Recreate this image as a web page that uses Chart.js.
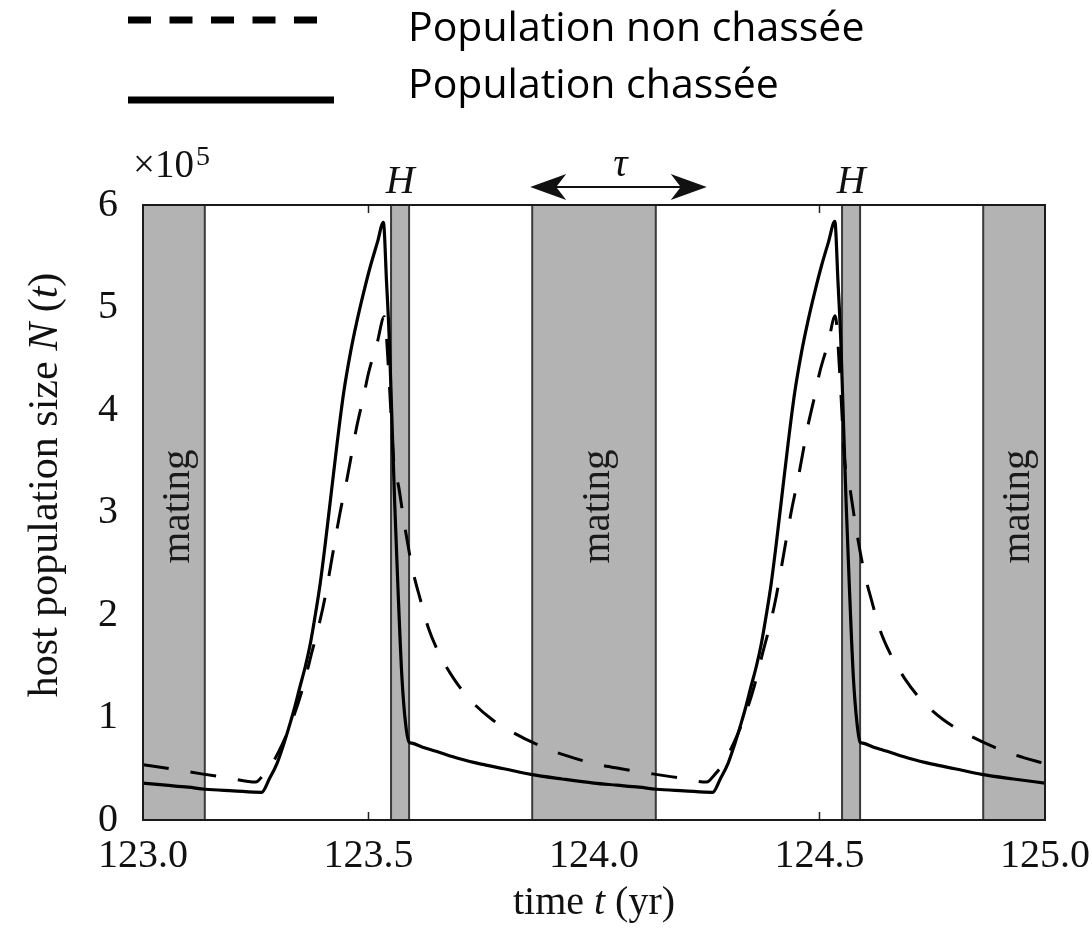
<!DOCTYPE html>
<html>
<head>
<meta charset="utf-8">
<script src="https://cdn.jsdelivr.net/npm/chart.js@4/dist/chart.umd.min.js"></script>
<style>
  html, body { margin: 0; padding: 0; background: #fff; }
  #wrap { width: 1092px; height: 928px; }
</style>
</head>
<body>
<div id="wrap"><canvas id="c" width="1092" height="928"></canvas></div>
<script>
// ---- data -------------------------------------------------------------
const seriesLabels = ['Population non chassée', 'Population chassée'];

// non-hunted population (dashed), time in years, size in units of 10^5
const wildT = [
  123.000, 123.060, 123.130, 123.190, 123.250, 123.267, 123.282, 123.300, 123.317, 123.334,
  123.355, 123.374, 123.390, 123.404, 123.422, 123.437, 123.452, 123.463, 123.474, 123.489,
  123.500, 123.519, 123.535, 123.545, 123.556, 123.567, 123.578, 123.590, 123.600, 123.615,
  123.633, 123.656, 123.689, 123.726, 123.774, 123.822, 123.885, 123.937,
  124.000, 124.060, 124.130, 124.190, 124.250, 124.267, 124.282, 124.300, 124.317, 124.334,
  124.355, 124.374, 124.390, 124.404, 124.422, 124.437, 124.452, 124.463, 124.474, 124.489,
  124.500, 124.519, 124.535, 124.545, 124.556, 124.567, 124.578, 124.590, 124.600, 124.615,
  124.633, 124.656, 124.689, 124.726, 124.774, 124.822, 124.885, 124.937, 125.000
];
const wildN = [
  0.54, 0.50, 0.45, 0.41, 0.37, 0.44, 0.52, 0.66, 0.82, 1.01,
  1.30, 1.63, 1.90, 2.18, 2.63, 3.00, 3.32, 3.58, 3.84, 4.13,
  4.36, 4.65, 4.91, 4.35, 3.50, 3.25, 2.93, 2.62, 2.40, 2.15,
  1.87, 1.63, 1.38, 1.17, 0.98, 0.85, 0.715, 0.63,
  0.55, 0.50, 0.45, 0.41, 0.37, 0.44, 0.52, 0.66, 0.82, 1.01,
  1.30, 1.63, 1.90, 2.18, 2.63, 3.00, 3.32, 3.58, 3.84, 4.13,
  4.36, 4.65, 4.92, 4.35, 3.50, 3.25, 2.93, 2.62, 2.40, 2.15,
  1.87, 1.63, 1.38, 1.17, 0.98, 0.85, 0.715, 0.63, 0.55
];

// hunted population (solid)
const huntedT = [
  123.000, 123.050, 123.100, 123.138, 123.200, 123.263, 123.280, 123.297, 123.312, 123.326,
  123.337, 123.348, 123.360, 123.371, 123.382, 123.393, 123.404, 123.415, 123.430, 123.445,
  123.460, 123.474, 123.490, 123.504, 123.520, 123.533, 123.540, 123.546, 123.552, 123.558,
  123.565, 123.574, 123.582, 123.590, 123.596, 123.620, 123.650, 123.700, 123.750, 123.800,
  123.860, 123.930,
  124.000, 124.050, 124.100, 124.138, 124.200, 124.263, 124.280, 124.297, 124.312, 124.326,
  124.337, 124.348, 124.360, 124.371, 124.382, 124.393, 124.404, 124.415, 124.430, 124.445,
  124.460, 124.474, 124.490, 124.504, 124.520, 124.534, 124.541, 124.547, 124.553, 124.559,
  124.566, 124.575, 124.583, 124.590, 124.596, 124.620, 124.650, 124.700, 124.750, 124.800,
  124.860, 124.930, 125.000
];
const huntedN = [
  0.36, 0.34, 0.32, 0.30, 0.285, 0.27, 0.40, 0.55, 0.74, 0.94,
  1.11, 1.30, 1.50, 1.72, 2.00, 2.31, 2.69, 3.10, 3.66, 4.17,
  4.56, 4.86, 5.16, 5.40, 5.64, 5.83, 5.25, 4.70, 3.90, 3.10,
  2.30, 1.40, 0.95, 0.76, 0.75, 0.71, 0.67, 0.60, 0.545, 0.50,
  0.445, 0.40,
  0.36, 0.34, 0.32, 0.30, 0.285, 0.27, 0.40, 0.55, 0.74, 0.94,
  1.11, 1.30, 1.50, 1.72, 2.00, 2.31, 2.69, 3.10, 3.66, 4.17,
  4.56, 4.86, 5.16, 5.40, 5.64, 5.84, 5.25, 4.70, 3.90, 3.10,
  2.30, 1.40, 0.95, 0.76, 0.75, 0.71, 0.67, 0.60, 0.545, 0.50,
  0.445, 0.40, 0.36
];

// seasons (start, end) in years
const matingSeasons = [[122.863, 123.137], [123.863, 124.137], [124.863, 125.137]];
const huntingSeasons = [[123.550, 123.590], [124.550, 124.590]];
const seasonLabel = 'mating';
const huntingLabel = 'H';
const periodLabel = 'τ';
const periodSpan = [123.863, 124.25];

// axes
const xTickValues = [123.0, 123.5, 124.0, 124.5, 125.0];
const xTickLabels = ['123.0', '123.5', '124.0', '124.5', '125.0'];
const yTickValues = [0, 1, 2, 3, 4, 5, 6];
const yTickLabels = ['0', '1', '2', '3', '4', '5', '6'];
const xTitleParts = [['time ', false], ['t', true], [' (yr)', false]];
const yTitleParts = [['host population size ', false], ['N', true], [' (', false], ['t', true], [')', false]];
const yScaleBase = '×10';
const yScaleExp = '5';

// ---- drawing helpers ---------------------------------------------------
const SERIF = '"Liberation Serif", "Times New Roman", serif';
const SANS = '"Open Sans", "Noto Sans", sans-serif';
const toPoints = (ts, ns) => ts.map((t, i) => ({ x: t, y: ns[i] }));

function mixedWidth(ctx, parts, size) {
  let w = 0;
  for (const [txt, it] of parts) {
    ctx.font = (it ? 'italic ' : '') + size + 'px ' + SERIF;
    w += ctx.measureText(txt).width;
  }
  return w;
}
function drawMixed(ctx, parts, size, cx, baseline) {
  const w = mixedWidth(ctx, parts, size);
  let x = cx - w / 2;
  ctx.textAlign = 'left';
  ctx.textBaseline = 'alphabetic';
  for (const [txt, it] of parts) {
    ctx.font = (it ? 'italic ' : '') + size + 'px ' + SERIF;
    ctx.fillText(txt, x, baseline);
    x += ctx.measureText(txt).width;
  }
}
function arrowHead(ctx, tipX, y, dir) {
  const L = 36, W = 13, notch = 10;
  ctx.beginPath();
  ctx.moveTo(tipX, y);
  ctx.lineTo(tipX + dir * L, y - W);
  ctx.lineTo(tipX + dir * (L - notch), y);
  ctx.lineTo(tipX + dir * L, y + W);
  ctx.closePath();
  ctx.fill();
}

const decorations = {
  id: 'decorations',
  beforeDraw(chart) {
    const ctx = chart.ctx;
    ctx.save();
    ctx.fillStyle = '#fff';
    ctx.fillRect(0, 0, chart.width, chart.height);
    ctx.restore();
  },
  beforeDatasetsDraw(chart) {
    const { ctx, chartArea: a, scales: { x, y } } = chart;
    ctx.save();
    // inward tick marks
    ctx.strokeStyle = '#222';
    ctx.lineWidth = 1.5;
    for (const v of xTickValues) {
      const px = x.getPixelForValue(v);
      ctx.beginPath();
      ctx.moveTo(px, a.bottom); ctx.lineTo(px, a.bottom - 8);
      ctx.moveTo(px, a.top); ctx.lineTo(px, a.top + 8);
      ctx.stroke();
    }
    for (const v of yTickValues) {
      const py = y.getPixelForValue(v);
      ctx.beginPath();
      ctx.moveTo(a.left, py); ctx.lineTo(a.left + 8, py);
      ctx.moveTo(a.right, py); ctx.lineTo(a.right - 8, py);
      ctx.stroke();
    }
    // seasons
    ctx.beginPath();
    ctx.rect(a.left, a.top, a.right - a.left, a.bottom - a.top);
    ctx.clip();
    const band = (s, e) => {
      const x0 = x.getPixelForValue(s), x1 = x.getPixelForValue(e);
      ctx.fillStyle = '#b3b3b3';
      ctx.fillRect(x0, a.top, x1 - x0, a.bottom - a.top);
      ctx.strokeStyle = '#3a3a3a';
      ctx.lineWidth = 2;
      ctx.beginPath();
      ctx.moveTo(x0, a.top); ctx.lineTo(x0, a.bottom);
      ctx.moveTo(x1, a.top); ctx.lineTo(x1, a.bottom);
      ctx.stroke();
      return [Math.max(x0, a.left), Math.min(x1, a.right)];
    };
    for (const [s, e] of matingSeasons) {
      const [l, r] = band(s, e);
      ctx.save();
      ctx.translate((l + r) / 2 + 4, (a.top + a.bottom) / 2 - 6);
      ctx.rotate(-Math.PI / 2);
      ctx.fillStyle = '#1a1a1a';
      ctx.font = '41px ' + SERIF;
      ctx.textAlign = 'center';
      ctx.textBaseline = 'middle';
      ctx.fillText(seasonLabel, 0, 0);
      ctx.restore();
    }
    for (const [s, e] of huntingSeasons) band(s, e);
    ctx.restore();
  },
  afterDatasetsDraw(chart) {
    const { ctx, chartArea: a, scales: { x, y } } = chart;
    ctx.save();
    // frame
    ctx.strokeStyle = '#1a1a1a';
    ctx.lineWidth = 2;
    ctx.strokeRect(a.left, a.top, a.right - a.left, a.bottom - a.top);

    ctx.fillStyle = '#111';
    // H labels above hunting seasons
    ctx.font = 'italic 40px ' + SERIF;
    ctx.textAlign = 'center';
    ctx.textBaseline = 'alphabetic';
    for (const [s, e] of huntingSeasons) {
      ctx.fillText(huntingLabel, (x.getPixelForValue(s) + x.getPixelForValue(e)) / 2, a.top - 12);
    }
    // period arrow
    const ax0 = x.getPixelForValue(periodSpan[0]) - 2;
    const ax1 = x.getPixelForValue(periodSpan[1]);
    const ay = a.top - 18;
    ctx.strokeStyle = '#111';
    ctx.lineWidth = 2;
    ctx.beginPath();
    ctx.moveTo(ax0 + 20, ay); ctx.lineTo(ax1 - 20, ay);
    ctx.stroke();
    arrowHead(ctx, ax0, ay, 1);
    arrowHead(ctx, ax1, ay, -1);
    ctx.font = 'italic 40px ' + SERIF;
    ctx.fillText(periodLabel, (ax0 + ax1) / 2 + 2, a.top - 29);

    // axis multiplier
    ctx.textAlign = 'left';
    ctx.font = '39px ' + SERIF;
    ctx.fillText(yScaleBase, a.left - 10, a.top - 28);
    const bw = ctx.measureText(yScaleBase).width;
    ctx.font = '28px ' + SERIF;
    ctx.fillText(yScaleExp, a.left - 10 + bw + 2, a.top - 40);

    // axis titles
    drawMixed(ctx, xTitleParts, 40, (a.left + a.right) / 2, 914);
    ctx.save();
    ctx.translate(57, 485);
    ctx.rotate(-Math.PI / 2);
    drawMixed(ctx, yTitleParts, 42, 0, 0);
    ctx.restore();

    // legend
    const ds = chart.data.datasets;
    const rows = [{ y: 20, text: 41, dash: [23, 18.5], x1: 317 }, { y: 100, text: 98, dash: [], x1: 334 }];
    ds.forEach((d, i) => {
      const r = rows[i];
      ctx.strokeStyle = '#000';
      ctx.lineWidth = 7;
      ctx.lineCap = 'butt';
      ctx.setLineDash(r.dash);
      ctx.beginPath();
      ctx.moveTo(128, r.y); ctx.lineTo(r.x1, r.y);
      ctx.stroke();
      ctx.setLineDash([]);
      ctx.fillStyle = '#000';
      ctx.font = '41px ' + SANS;
      ctx.textAlign = 'left';
      ctx.textBaseline = 'alphabetic';
      ctx.fillText(d.label, 408, r.text);
    });
    ctx.restore();
  }
};

// ---- chart -------------------------------------------------------------
const tickFont = { family: SERIF, size: 40 };

new Chart(document.getElementById('c'), {
  type: 'scatter',
  data: {
    datasets: [
      {
        label: seriesLabels[0],
        data: toPoints(wildT, wildN),
        showLine: true,
        borderColor: '#000',
        borderWidth: 3,
        borderDash: [26, 22],
        pointRadius: 0,
        cubicInterpolationMode: 'monotone'
      },
      {
        label: seriesLabels[1],
        data: toPoints(huntedT, huntedN),
        showLine: true,
        borderColor: '#000',
        borderWidth: 3.2,
        pointRadius: 0,
        cubicInterpolationMode: 'monotone'
      }
    ]
  },
  options: {
    responsive: false,
    animation: false,
    devicePixelRatio: 1,
    layout: { padding: { top: 205, left: 0, right: 47, bottom: 0 } },
    plugins: { legend: { display: false }, tooltip: { enabled: false } },
    scales: {
      x: {
        type: 'linear',
        min: 123, max: 125,
        afterBuildTicks: s => { s.ticks = xTickValues.map(v => ({ value: v })); },
        afterFit: s => { s.height = 108; s.paddingLeft = 0; s.paddingRight = 0; },
        grid: { display: false, drawTicks: false },
        border: { display: false },
        ticks: {
          callback: (v, i) => xTickLabels[i],
          font: tickFont, color: '#111', padding: 12,
          maxRotation: 0, autoSkip: false
        }
      },
      y: {
        min: 0, max: 6,
        afterBuildTicks: s => { s.ticks = yTickValues.map(v => ({ value: v })); },
        afterFit: s => { s.width = 143; s.paddingTop = 0; s.paddingBottom = 0; },
        grid: { display: false, drawTicks: false },
        border: { display: false },
        ticks: {
          callback: (v, i) => yTickLabels[i],
          font: tickFont, color: '#111', padding: 25,
          autoSkip: false
        }
      }
    }
  },
  plugins: [decorations]
});
</script>
</body>
</html>
